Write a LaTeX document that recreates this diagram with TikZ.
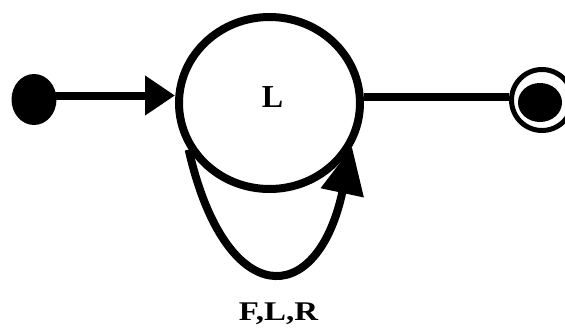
\documentclass[tikz,border=0pt]{standalone}
\usepackage{fontspec}
\setmainfont{Liberation Serif}
\usetikzlibrary{arrows.meta,shapes.geometric,calc}
\begin{document}
\begin{tikzpicture}[x=1pt,y=-1pt,
  conn/.style={line width=8pt, draw=black},
  statebox/.style={ellipse, draw=black, line width=8pt, inner sep=0pt},
  dotbox/.style={ellipse, fill=black, inner sep=0pt},
  txt/.style={font=\bfseries, text=black, inner sep=0pt, anchor=base}]
\useasboundingbox (0,0) rectangle (565,327);
\fill[white] (0,0) rectangle (565,327);
% states
\node[dotbox, minimum width=45pt, minimum height=51pt] (start) at (34,99.5) {};
\node[statebox, minimum width=181pt, minimum height=172pt] (big) at (269.5,103) {};
\node[circle, draw=black, line width=5pt, minimum size=61pt, inner sep=0pt] (final) at (542,100) {};
\node[dotbox, minimum width=44pt, minimum height=39pt] (finalin) at (540,102.5) {};
% labels
\node[txt, font=\bfseries\fontsize{32}{36}\selectfont] (lname) at (272.5,107) {L};
\node[txt, font=\bfseries\fontsize{27}{30}\selectfont] (loopl) at (278.5,320) {\scalebox{1.22}[1]{F,L,R}};
% connectors
\coordinate (s1) at ([yshift=4pt]start.center);
\coordinate (s2) at (s1 -| big.west);
\draw[conn, -{Triangle[length=30pt,width=38pt]}] (s1) -- (s2);
\coordinate (r1) at ([yshift=6pt]big.east);
\coordinate (r2) at (r1 -| final.west);
\draw[conn] (r1) -- (r2);
\draw[conn, -{Triangle[length=47pt,width=42pt]}] (big.210) .. controls (225,310) and (317,311) .. (big.332);
\end{tikzpicture}
\end{document}
